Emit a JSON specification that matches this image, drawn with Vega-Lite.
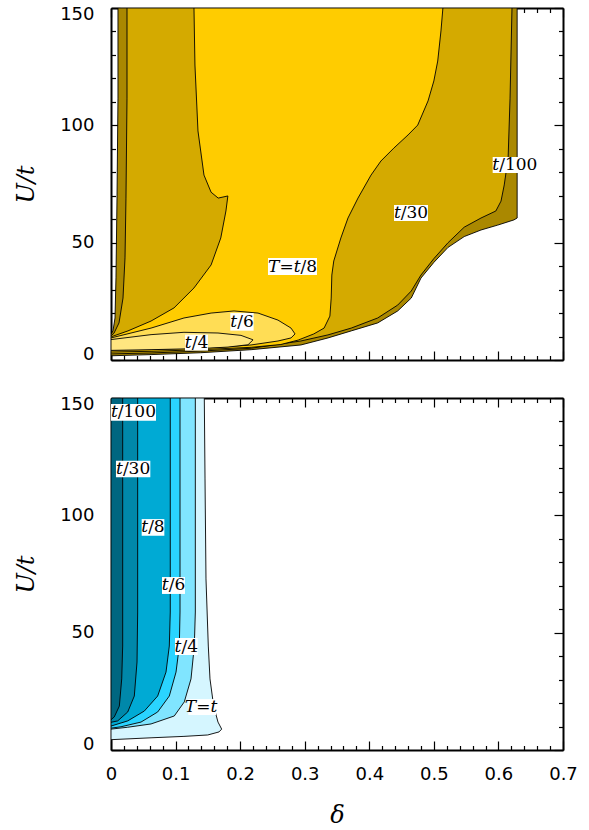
{
  "$schema": "https://vega.github.io/schema/vega-lite/v6.json",
  "padding": {"left": 14, "top": 5, "right": 5, "bottom": 5},
  "spacing": 32,
  "resolve": {"scale": {"fill": "independent"}},
  "datasets": {
    "top": [
      {"r":"a","i":0,"d":0.0108,"u":150},{"r":"a","i":1,"d":0.0108,"u":111.6},{"r":"a","i":2,"d":0.0093,"u":69},{"r":"a","i":3,"d":0.0077,"u":35},{"r":"a","i":4,"d":0.0062,"u":17.9},{"r":"a","i":5,"d":0.0031,"u":12.5},{"r":"a","i":6,"d":0,"u":10.8},{"r":"a","i":7,"d":0,"u":1.8},{"r":"a","i":8,"d":0.062,"u":2.3},{"r":"a","i":9,"d":0.139,"u":3.1},{"r":"a","i":10,"d":0.217,"u":4.4},{"r":"a","i":11,"d":0.294,"u":6.4},{"r":"a","i":12,"d":0.336,"u":9.4},{"r":"a","i":13,"d":0.372,"u":12.4},{"r":"a","i":14,"d":0.413,"u":15.8},{"r":"a","i":15,"d":0.444,"u":20.9},{"r":"a","i":16,"d":0.465,"u":26.4},{"r":"a","i":17,"d":0.48,"u":34.9},{"r":"a","i":18,"d":0.5,"u":41.6},{"r":"a","i":19,"d":0.522,"u":48.0},{"r":"a","i":20,"d":0.547,"u":52.6},{"r":"a","i":21,"d":0.573,"u":55.4},{"r":"a","i":22,"d":0.599,"u":57.5},{"r":"a","i":23,"d":0.624,"u":59.7},{"r":"a","i":24,"d":0.629,"u":60.5},{"r":"a","i":25,"d":0.629,"u":150},{"r":"a","i":26,"d":0.0108,"u":150},
      {"r":"b","i":0,"d":0.0248,"u":150},{"r":"b","i":1,"d":0.0248,"u":111.6},{"r":"b","i":2,"d":0.0232,"u":69},{"r":"b","i":3,"d":0.0217,"u":43.5},{"r":"b","i":4,"d":0.0186,"u":26.4},{"r":"b","i":5,"d":0.0124,"u":15.8},{"r":"b","i":6,"d":0.0046,"u":11.4},{"r":"b","i":7,"d":0,"u":10.3},{"r":"b","i":8,"d":0,"u":2.6},{"r":"b","i":9,"d":0.062,"u":3.0},{"r":"b","i":10,"d":0.139,"u":3.8},{"r":"b","i":11,"d":0.217,"u":5.0},{"r":"b","i":12,"d":0.294,"u":8.1},{"r":"b","i":13,"d":0.336,"u":10.7},{"r":"b","i":14,"d":0.372,"u":13.6},{"r":"b","i":15,"d":0.413,"u":17.9},{"r":"b","i":16,"d":0.444,"u":23.4},{"r":"b","i":17,"d":0.465,"u":29.4},{"r":"b","i":18,"d":0.48,"u":36.2},{"r":"b","i":19,"d":0.5,"u":43.2},{"r":"b","i":20,"d":0.522,"u":50},{"r":"b","i":21,"d":0.547,"u":56.6},{"r":"b","i":22,"d":0.573,"u":60.5},{"r":"b","i":23,"d":0.596,"u":63.5},{"r":"b","i":24,"d":0.604,"u":67.7},{"r":"b","i":25,"d":0.609,"u":74.6},{"r":"b","i":26,"d":0.615,"u":86.1},{"r":"b","i":27,"d":0.618,"u":111.6},{"r":"b","i":28,"d":0.621,"u":150},{"r":"b","i":29,"d":0.0248,"u":150},
      {"r":"c","i":0,"d":0.1285,"u":150},{"r":"c","i":1,"d":0.130,"u":125.7},{"r":"c","i":2,"d":0.1347,"u":97.6},{"r":"c","i":3,"d":0.144,"u":78.8},{"r":"c","i":4,"d":0.155,"u":71.5},{"r":"c","i":5,"d":0.166,"u":69},{"r":"c","i":6,"d":0.181,"u":69.9},{"r":"c","i":7,"d":0.178,"u":63.5},{"r":"c","i":8,"d":0.170,"u":52},{"r":"c","i":9,"d":0.155,"u":40.5},{"r":"c","i":10,"d":0.1285,"u":30.7},{"r":"c","i":11,"d":0.0976,"u":22.2},{"r":"c","i":12,"d":0.062,"u":16.6},{"r":"c","i":13,"d":0.0263,"u":12.4},{"r":"c","i":14,"d":0.0015,"u":10.0},{"r":"c","i":15,"d":0,"u":9.8},{"r":"c","i":16,"d":0,"u":3.4},{"r":"c","i":17,"d":0.062,"u":3.7},{"r":"c","i":18,"d":0.139,"u":4.4},{"r":"c","i":19,"d":0.217,"u":5.4},{"r":"c","i":20,"d":0.263,"u":6.6},{"r":"c","i":21,"d":0.29,"u":8.5},{"r":"c","i":22,"d":0.314,"u":11.1},{"r":"c","i":23,"d":0.33,"u":13.6},{"r":"c","i":24,"d":0.339,"u":18.7},{"r":"c","i":25,"d":0.341,"u":26.4},{"r":"c","i":26,"d":0.342,"u":36.2},{"r":"c","i":27,"d":0.345,"u":42.2},{"r":"c","i":28,"d":0.356,"u":52},{"r":"c","i":29,"d":0.367,"u":60.5},{"r":"c","i":30,"d":0.3825,"u":69},{"r":"c","i":31,"d":0.4027,"u":78.8},{"r":"c","i":32,"d":0.418,"u":84.8},{"r":"c","i":33,"d":0.438,"u":90.3},{"r":"c","i":34,"d":0.46,"u":95.9},{"r":"c","i":35,"d":0.475,"u":100.1},{"r":"c","i":36,"d":0.491,"u":110.4},{"r":"c","i":37,"d":0.5,"u":118.9},{"r":"c","i":38,"d":0.506,"u":127.4},{"r":"c","i":39,"d":0.511,"u":140.2},{"r":"c","i":40,"d":0.514,"u":150},{"r":"c","i":41,"d":0.1285,"u":150},
      {"r":"d","i":0,"d":0,"u":9.4},{"r":"d","i":1,"d":0.062,"u":13.6},{"r":"d","i":2,"d":0.113,"u":17.9},{"r":"d","i":3,"d":0.155,"u":20},{"r":"d","i":4,"d":0.1905,"u":20.9},{"r":"d","i":5,"d":0.2277,"u":20},{"r":"d","i":6,"d":0.2586,"u":17},{"r":"d","i":7,"d":0.2788,"u":13.6},{"r":"d","i":8,"d":0.285,"u":11.1},{"r":"d","i":9,"d":0.2788,"u":9.4},{"r":"d","i":10,"d":0.2586,"u":8.1},{"r":"d","i":11,"d":0.2168,"u":6.4},{"r":"d","i":12,"d":0.1657,"u":5.4},{"r":"d","i":13,"d":0.0883,"u":4.6},{"r":"d","i":14,"d":0,"u":4.1},{"r":"d","i":15,"d":0,"u":9.4},
      {"r":"e","i":0,"d":0,"u":8.7},{"r":"e","i":1,"d":0.062,"u":10.8},{"r":"e","i":2,"d":0.113,"u":11.8},{"r":"e","i":3,"d":0.1657,"u":11.5},{"r":"e","i":4,"d":0.2013,"u":10.5},{"r":"e","i":5,"d":0.22,"u":8.6},{"r":"e","i":6,"d":0.2122,"u":6.5},{"r":"e","i":7,"d":0.1812,"u":5.5},{"r":"e","i":8,"d":0.1394,"u":4.9},{"r":"e","i":9,"d":0.062,"u":4.4},{"r":"e","i":10,"d":0,"u":4.1},{"r":"e","i":11,"d":0,"u":8.7}
    ],
    "topLab": [
      {"d":0.6012,"u":83.1,"d0":0.5911,"d1":0.6597,"u0":79.7,"u1":86.5,"it":"t","rm":"/100"},
      {"d":0.4487,"u":62.6,"d0":0.4383,"d1":0.4909,"u0":59.2,"u1":66.0,"it":"t","rm":"/30"},
      {"d":0.2935,"u":39.8,"d0":0.2431,"d1":0.319,"u0":36.2,"u1":43.5,"it":"T=t","rm":"/8"},
      {"d":0.1954,"u":16.2,"d0":0.1848,"d1":0.2209,"u0":12.5,"u1":20.0,"it":"t","rm":"/6"},
      {"d":0.1249,"u":7.4,"d0":0.1146,"d1":0.1502,"u0":4.0,"u1":10.8,"it":"t","rm":"/4"}
    ],
    "bot": [
      {"r":"a","i":0,"d":0,"u":150},{"r":"a","i":1,"d":0.1445,"u":150},{"r":"a","i":2,"d":0.1456,"u":115.5},{"r":"a","i":3,"d":0.1471,"u":72.9},{"r":"a","i":4,"d":0.1507,"u":44.3},{"r":"a","i":5,"d":0.1533,"u":30.3},{"r":"a","i":6,"d":0.159,"u":18.7},{"r":"a","i":7,"d":0.1657,"u":11.9},{"r":"a","i":8,"d":0.1714,"u":8.9},{"r":"a","i":9,"d":0.1673,"u":7.7},{"r":"a","i":10,"d":0.1498,"u":6.4},{"r":"a","i":11,"d":0.113,"u":5.8},{"r":"a","i":12,"d":0.062,"u":5.2},{"r":"a","i":13,"d":0,"u":4.4},{"r":"a","i":14,"d":0,"u":150},
      {"r":"b","i":0,"d":0,"u":150},{"r":"b","i":1,"d":0.1306,"u":150},{"r":"b","i":2,"d":0.1306,"u":58.8},{"r":"b","i":3,"d":0.129,"u":44.3},{"r":"b","i":4,"d":0.1239,"u":30.3},{"r":"b","i":5,"d":0.1135,"u":20.5},{"r":"b","i":6,"d":0.098,"u":14.5},{"r":"b","i":7,"d":0.062,"u":11.1},{"r":"b","i":8,"d":0.0259,"u":9.7},{"r":"b","i":9,"d":0,"u":8.9},{"r":"b","i":10,"d":0,"u":150},
      {"r":"c","i":0,"d":0,"u":150},{"r":"c","i":1,"d":0.1069,"u":150},{"r":"c","i":2,"d":0.1069,"u":58.8},{"r":"c","i":3,"d":0.1058,"u":44.3},{"r":"c","i":4,"d":0.1007,"u":33.2},{"r":"c","i":5,"d":0.0903,"u":23},{"r":"c","i":6,"d":0.0723,"u":16.2},{"r":"c","i":7,"d":0.0465,"u":11.9},{"r":"c","i":8,"d":0.0155,"u":9.9},{"r":"c","i":9,"d":0,"u":9.3},{"r":"c","i":10,"d":0,"u":150},
      {"r":"d","i":0,"d":0,"u":150},{"r":"d","i":1,"d":0.0918,"u":150},{"r":"d","i":2,"d":0.0918,"u":58.8},{"r":"d","i":3,"d":0.0903,"u":44.3},{"r":"d","i":4,"d":0.0852,"u":33.2},{"r":"d","i":5,"d":0.0723,"u":23},{"r":"d","i":6,"d":0.0516,"u":16.6},{"r":"d","i":7,"d":0.0259,"u":12.4},{"r":"d","i":8,"d":0,"u":10.2},{"r":"d","i":9,"d":0,"u":150},
      {"r":"e","i":0,"d":0,"u":150},{"r":"e","i":1,"d":0.0413,"u":150},{"r":"e","i":2,"d":0.0413,"u":58.8},{"r":"e","i":3,"d":0.0403,"u":37.5},{"r":"e","i":4,"d":0.0361,"u":23},{"r":"e","i":5,"d":0.0259,"u":16.2},{"r":"e","i":6,"d":0.0104,"u":12.4},{"r":"e","i":7,"d":0,"u":11.8},{"r":"e","i":8,"d":0,"u":150},
      {"r":"f","i":0,"d":0,"u":150},{"r":"f","i":1,"d":0.0181,"u":150},{"r":"f","i":2,"d":0.0181,"u":44.3},{"r":"f","i":3,"d":0.0166,"u":30.3},{"r":"f","i":4,"d":0.0129,"u":18.7},{"r":"f","i":5,"d":0.0051,"u":14.1},{"r":"f","i":6,"d":0,"u":12.9},{"r":"f","i":7,"d":0,"u":150}
    ],
    "botLab": [
      {"d":0.0105,"u":144.0,"d0":0,"d1":0.0697,"u0":140.3,"u1":147.4,"it":"t","rm":"/100"},
      {"d":0.0184,"u":119.7,"d0":0.0077,"d1":0.0609,"u0":116.2,"u1":123.3,"it":"t","rm":"/30"},
      {"d":0.0575,"u":95,"d0":0.0475,"d1":0.0826,"u0":91.3,"u1":98.4,"it":"t","rm":"/8"},
      {"d":0.0893,"u":70.1,"d0":0.079,"d1":0.1146,"u0":66.5,"u1":73.7,"it":"t","rm":"/6"},
      {"d":0.1091,"u":44.1,"d0":0.0991,"d1":0.1343,"u0":40.5,"u1":47.7,"it":"t","rm":"/4"},
      {"d":0.1645,"u":18.3,"d0":0.1197,"d1":0.1626,"u0":14.9,"u1":21.7,"it":"T=t","rm":""}
    ]
  },
  "vconcat": [
    {
      "width": 452,
      "height": 352,
      "resolve": {"axis": {"x": "independent", "y": "independent"}},
      "layer": [
        {
          "data": {"name": "top"},
          "mark": {"type": "line", "stroke": "black", "strokeWidth": 0.9, "clip": true},
          "encoding": {
            "x": {"field": "d", "type": "quantitative", "scale": {"domain": [0, 0.7], "nice": false, "zero": false},
                  "axis": {"orient": "bottom", "values": [0,0.1,0.2,0.3,0.4,0.5,0.6,0.7], "tickSize": -9, "labels": false, "domain": true, "title": null}},
            "y": {"field": "u", "type": "quantitative", "scale": {"domain": [0, 150], "nice": false, "zero": false},
                  "axis": {"orient": "left", "values": [0,50,100,150], "tickSize": -9, "labelPadding": 26, "labelFlush": true, "labelFlushOffset": 3, "domain": true, "title": "U/t", "titlePadding": 21}},
            "order": {"field": "i", "type": "quantitative"},
            "detail": {"field": "r", "type": "nominal"},
            "fill": {"field": "r", "type": "nominal", "legend": null,
                     "scale": {"domain": ["a","b","c","d","e"], "range": ["#aa8800","#d4aa00","#ffcc00","#ffdd55","#ffe680"]}}
          }
        },
        {
          "data": {"name": "topLab"},
          "mark": {"type": "rect", "fill": "white"},
          "encoding": {
            "x": {"field": "d0", "type": "quantitative", "scale": {"domain": [0, 0.7], "nice": false, "zero": false},
                  "axis": {"orient": "bottom", "values": [0.02,0.04,0.06,0.08,0.12,0.14,0.16,0.18,0.22,0.24,0.26,0.28,0.32,0.34,0.36,0.38,0.42,0.44,0.46,0.48,0.52,0.54,0.56,0.58,0.62,0.64,0.66,0.68], "tickSize": -4.5, "labels": false, "domain": false, "title": null}},
            "x2": {"field": "d1"},
            "y": {"field": "u0", "type": "quantitative", "scale": {"domain": [0, 150], "nice": false, "zero": false},
                  "axis": {"orient": "left", "values": [10,20,30,40,60,70,80,90,110,120,130,140], "tickSize": -4.5, "labels": false, "domain": false, "title": null}},
            "y2": {"field": "u1"}
          }
        },
        {
          "data": {"name": "topLab"},
          "mark": {"type": "text", "font": "DejaVu Serif", "fontSize": 17, "fontStyle": "italic", "align": "right", "baseline": "middle", "color": "black"},
          "encoding": {
            "x": {"field": "d", "type": "quantitative", "scale": {"domain": [0, 0.7], "nice": false, "zero": false},
                  "axis": {"orient": "top", "values": [0,0.1,0.2,0.3,0.4,0.5,0.6,0.7], "tickSize": -9, "labels": false, "domain": true, "title": null}},
            "y": {"field": "u", "type": "quantitative", "scale": {"domain": [0, 150], "nice": false, "zero": false},
                  "axis": {"orient": "right", "values": [0,50,100,150], "tickSize": -9, "labels": false, "domain": true, "title": null}},
            "text": {"field": "it"}
          }
        },
        {
          "data": {"name": "topLab"},
          "mark": {"type": "text", "font": "DejaVu Serif", "fontSize": 17, "fontStyle": "normal", "align": "left", "baseline": "middle", "color": "black"},
          "encoding": {
            "x": {"field": "d", "type": "quantitative", "scale": {"domain": [0, 0.7], "nice": false, "zero": false},
                  "axis": {"orient": "top", "values": [0.02,0.04,0.06,0.08,0.12,0.14,0.16,0.18,0.22,0.24,0.26,0.28,0.32,0.34,0.36,0.38,0.42,0.44,0.46,0.48,0.52,0.54,0.56,0.58,0.62,0.64,0.66,0.68], "tickSize": -4.5, "labels": false, "domain": false, "title": null}},
            "y": {"field": "u", "type": "quantitative", "scale": {"domain": [0, 150], "nice": false, "zero": false},
                  "axis": {"orient": "right", "values": [10,20,30,40,60,70,80,90,110,120,130,140], "tickSize": -4.5, "labels": false, "domain": false, "title": null}},
            "text": {"field": "rm"}
          }
        }
      ]
    },
    {
      "width": 452,
      "height": 352,
      "resolve": {"axis": {"x": "independent", "y": "independent"}},
      "layer": [
        {
          "data": {"name": "bot"},
          "mark": {"type": "line", "stroke": "black", "strokeWidth": 0.9, "clip": true},
          "encoding": {
            "x": {"field": "d", "type": "quantitative", "scale": {"domain": [0, 0.7], "nice": false, "zero": false},
                  "axis": {"orient": "bottom", "values": [0,0.1,0.2,0.3,0.4,0.5,0.6,0.7], "format": "~g", "tickSize": -9, "labels": true, "labelPadding": 24, "labelFlush": false, "domain": true, "title": "δ", "titlePadding": 20}},
            "y": {"field": "u", "type": "quantitative", "scale": {"domain": [0, 150], "nice": false, "zero": false},
                  "axis": {"orient": "left", "values": [0,50,100,150], "tickSize": -9, "labelPadding": 26, "labelFlush": true, "labelFlushOffset": 3, "domain": true, "title": "U/t", "titlePadding": 21}},
            "order": {"field": "i", "type": "quantitative"},
            "detail": {"field": "r", "type": "nominal"},
            "fill": {"field": "r", "type": "nominal", "legend": null,
                     "scale": {"domain": ["a","b","c","d","e","f"], "range": ["#d5f6ff","#80e5ff","#2ad4ff","#00aad4","#0088aa","#006680"]}}
          }
        },
        {
          "data": {"name": "botLab"},
          "mark": {"type": "rect", "fill": "white"},
          "encoding": {
            "x": {"field": "d0", "type": "quantitative", "scale": {"domain": [0, 0.7], "nice": false, "zero": false},
                  "axis": {"orient": "bottom", "values": [0.02,0.04,0.06,0.08,0.12,0.14,0.16,0.18,0.22,0.24,0.26,0.28,0.32,0.34,0.36,0.38,0.42,0.44,0.46,0.48,0.52,0.54,0.56,0.58,0.62,0.64,0.66,0.68], "tickSize": -4.5, "labels": false, "domain": false, "title": null}},
            "x2": {"field": "d1"},
            "y": {"field": "u0", "type": "quantitative", "scale": {"domain": [0, 150], "nice": false, "zero": false},
                  "axis": {"orient": "left", "values": [10,20,30,40,60,70,80,90,110,120,130,140], "tickSize": -4.5, "labels": false, "domain": false, "title": null}},
            "y2": {"field": "u1"}
          }
        },
        {
          "data": {"name": "botLab"},
          "mark": {"type": "text", "font": "DejaVu Serif", "fontSize": 17, "fontStyle": "italic", "align": "right", "baseline": "middle", "color": "black"},
          "encoding": {
            "x": {"field": "d", "type": "quantitative", "scale": {"domain": [0, 0.7], "nice": false, "zero": false},
                  "axis": {"orient": "top", "values": [0,0.1,0.2,0.3,0.4,0.5,0.6,0.7], "tickSize": -9, "labels": false, "domain": true, "title": null}},
            "y": {"field": "u", "type": "quantitative", "scale": {"domain": [0, 150], "nice": false, "zero": false},
                  "axis": {"orient": "right", "values": [0,50,100,150], "tickSize": -9, "labels": false, "domain": true, "title": null}},
            "text": {"field": "it"}
          }
        },
        {
          "data": {"name": "botLab"},
          "mark": {"type": "text", "font": "DejaVu Serif", "fontSize": 17, "fontStyle": "normal", "align": "left", "baseline": "middle", "color": "black"},
          "encoding": {
            "x": {"field": "d", "type": "quantitative", "scale": {"domain": [0, 0.7], "nice": false, "zero": false},
                  "axis": {"orient": "top", "values": [0.02,0.04,0.06,0.08,0.12,0.14,0.16,0.18,0.22,0.24,0.26,0.28,0.32,0.34,0.36,0.38,0.42,0.44,0.46,0.48,0.52,0.54,0.56,0.58,0.62,0.64,0.66,0.68], "tickSize": -4.5, "labels": false, "domain": false, "title": null}},
            "y": {"field": "u", "type": "quantitative", "scale": {"domain": [0, 150], "nice": false, "zero": false},
                  "axis": {"orient": "right", "values": [10,20,30,40,60,70,80,90,110,120,130,140], "tickSize": -4.5, "labels": false, "domain": false, "title": null}},
            "text": {"field": "rm"}
          }
        }
      ]
    }
  ],
  "config": {
    "view": {"stroke": null},
    "axis": {
      "grid": false, "zindex": 1,
      "tickColor": "black", "tickWidth": 1.2,
      "domainColor": "black", "domainWidth": 2,
      "labelFont": "DejaVu Sans", "labelFontSize": 18, "labelColor": "black",
      "titleFont": "DejaVu Serif", "titleFontSize": 24, "titleFontStyle": "italic", "titleFontWeight": "normal", "titleColor": "black"
    }
  }
}
